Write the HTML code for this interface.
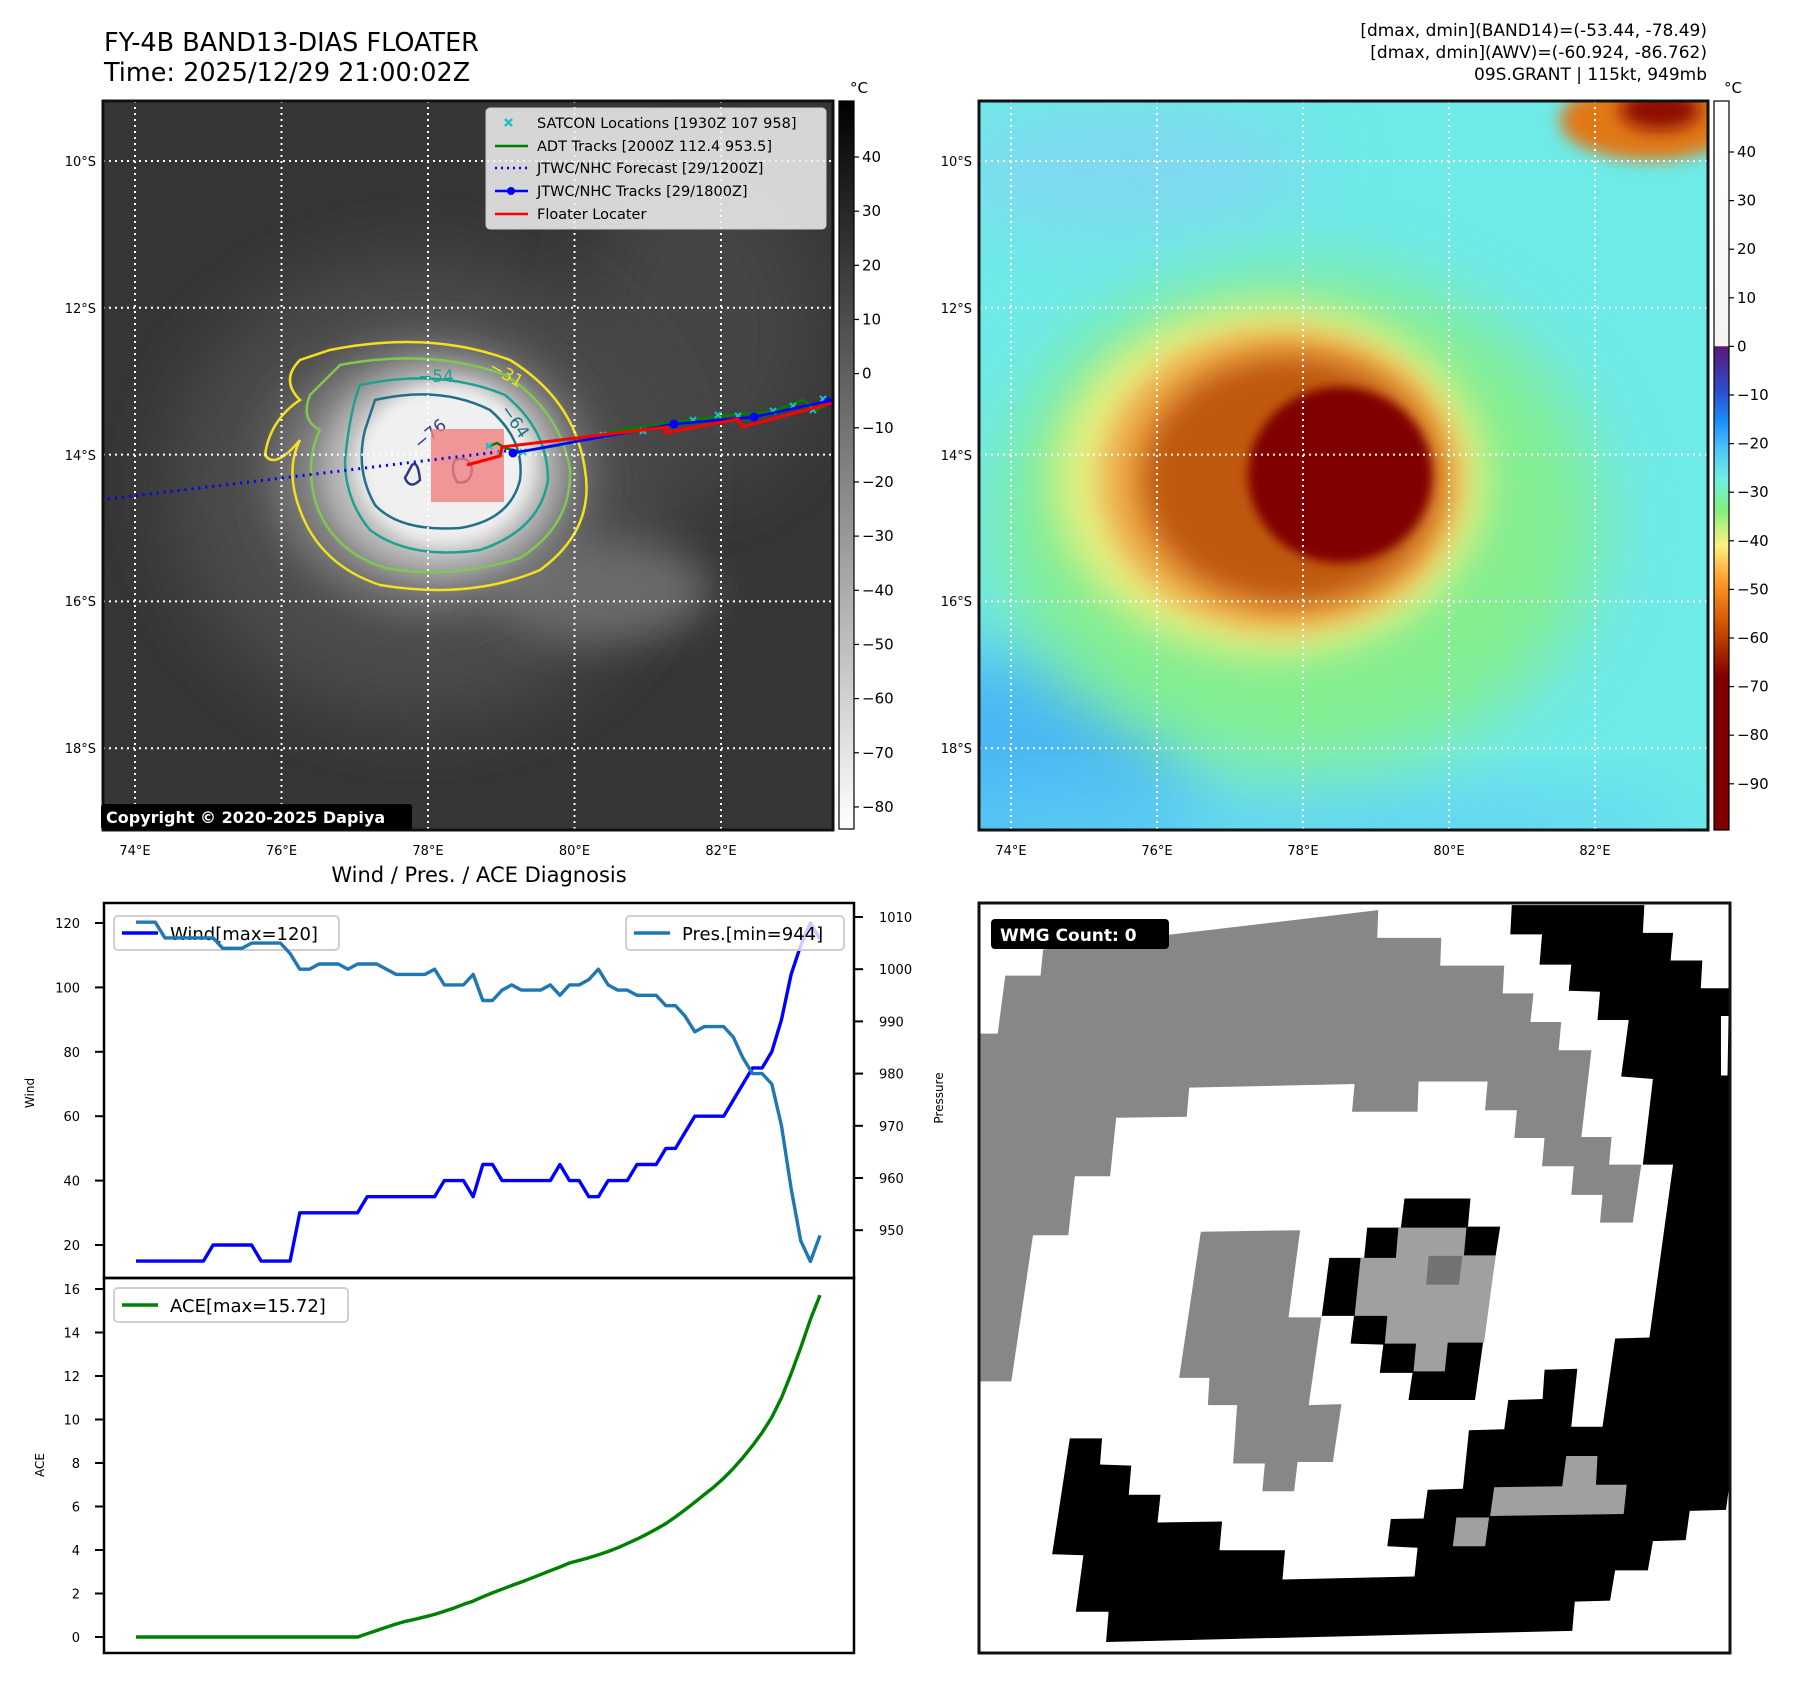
<!DOCTYPE html>
<html><head><meta charset="utf-8">
<style>
html,body{margin:0;padding:0;background:#fff;}
svg text{font-family:"DejaVu Sans","Liberation Sans",sans-serif;}
</style></head>
<body>
<svg id="fig" width="1797" height="1690" viewBox="0 0 1797 1690" xmlns="http://www.w3.org/2000/svg">
<defs>
  <filter id="b5" x="-50%" y="-50%" width="200%" height="200%"><feGaussianBlur stdDeviation="5"/></filter>
  <filter id="b8" x="-50%" y="-50%" width="200%" height="200%"><feGaussianBlur stdDeviation="8"/></filter>
  <filter id="b14" x="-50%" y="-50%" width="200%" height="200%"><feGaussianBlur stdDeviation="14"/></filter>
  <filter id="b20" x="-50%" y="-50%" width="200%" height="200%"><feGaussianBlur stdDeviation="20"/></filter>
  <filter id="b35" x="-50%" y="-50%" width="200%" height="200%"><feGaussianBlur stdDeviation="35"/></filter>
  <clipPath id="clipL"><rect x="103" y="101" width="730" height="729"/></clipPath>
  <clipPath id="clipR"><rect x="979" y="101" width="729" height="729"/></clipPath>
  <clipPath id="clipW"><rect x="979" y="903" width="751" height="750"/></clipPath>
  <linearGradient id="cbGrey" x1="0" y1="0" x2="0" y2="1">
    <stop offset="0" stop-color="#000"/><stop offset="1" stop-color="#fff"/>
  </linearGradient>
  <linearGradient id="cbJet" x1="0" y1="0" x2="0" y2="1">
    <stop offset="0" stop-color="#ffffff"/>
    <stop offset="0.336" stop-color="#f4f4f4"/>
    <stop offset="0.337" stop-color="#5a1878"/>
    <stop offset="0.40" stop-color="#2a50d0"/>
    <stop offset="0.44" stop-color="#1a90ff"/>
    <stop offset="0.48" stop-color="#50c8f8"/>
    <stop offset="0.52" stop-color="#70f0e0"/>
    <stop offset="0.56" stop-color="#80f080"/>
    <stop offset="0.61" stop-color="#fff080"/>
    <stop offset="0.66" stop-color="#ff9828"/>
    <stop offset="0.72" stop-color="#d05000"/>
    <stop offset="0.79" stop-color="#800000"/>
    <stop offset="1" stop-color="#800000"/>
  </linearGradient>
</defs>

<!-- titles -->
<text x="104" y="51" font-size="25.5">FY-4B BAND13-DIAS FLOATER</text>
<text x="104" y="81" font-size="25.5">Time: 2025/12/29 21:00:02Z</text>
<g font-size="17" text-anchor="end">
  <text x="1707" y="36">[dmax, dmin](BAND14)=(-53.44, -78.49)</text>
  <text x="1707" y="58">[dmax, dmin](AWV)=(-60.924, -86.762)</text>
  <text x="1707" y="80">09S.GRANT | 115kt, 949mb</text>
</g>

<!-- ========== top-left IR map ========== -->
<g clip-path="url(#clipL)">
  <rect x="103" y="101" width="730" height="729" fill="#363636"/>
  <ellipse cx="700" cy="330" rx="120" ry="160" fill="#444" filter="url(#b35)"/>
  <ellipse cx="420" cy="490" rx="250" ry="230" fill="#4c4c4c" filter="url(#b35)"/>
  <ellipse cx="600" cy="590" rx="110" ry="50" fill="#6a6a6a" filter="url(#b20)"/>
  <ellipse cx="430" cy="475" rx="160" ry="135" fill="#7a7a7a" filter="url(#b20)"/>
  <ellipse cx="440" cy="470" rx="120" ry="105" fill="#bcbcbc" filter="url(#b14)"/>
  <ellipse cx="445" cy="465" rx="90" ry="82" fill="#f0f0f0" filter="url(#b8)"/>
</g>
<g clip-path="url(#clipL)" fill="none" stroke-width="2.5">
  <path d="M330,350 Q430,330 510,360 Q575,400 585,470 Q595,530 540,570 Q470,600 380,585 Q320,565 300,510 Q285,470 300,440 Q275,470 265,455 Q270,420 300,400 Q280,380 300,360 Z" stroke="#f5e020"/>
  <path d="M340,365 Q430,348 505,375 Q560,410 570,470 Q572,525 520,558 Q450,580 385,568 Q330,550 315,500 Q305,460 320,430 Q300,420 310,395 Z" stroke="#80c850"/>
  <path d="M360,385 Q440,368 505,395 Q548,430 548,480 Q540,530 480,550 Q410,560 370,530 Q345,500 345,460 Q350,410 360,385 Z" stroke="#20a090"/>
  <path d="M375,400 Q440,385 490,410 Q525,440 520,480 Q510,520 460,528 Q400,532 375,505 Q355,470 365,430 Z" stroke="#207088"/>
  <path d="M455,460 Q470,455 472,470 Q470,485 457,482 Q450,470 455,460 Z M412,465 Q418,460 420,480 Q410,490 405,478 Z" stroke="#303880"/>
  <text x="418" y="382" font-size="17" fill="#20a090" stroke="none">−54</text>
  <text x="488" y="370" font-size="17" fill="#f5e020" stroke="none" transform="rotate(30 488 370)">−31</text>
  <text x="500" y="410" font-size="17" fill="#207088" stroke="none" transform="rotate(55 500 410)">−64</text>
  <text x="420" y="450" font-size="17" fill="#303880" stroke="none" transform="rotate(-40 420 450)">−76</text>
</g>
<g clip-path="url(#clipL)" stroke="#fff" stroke-width="2" stroke-dasharray="2,4">
  <line x1="135" y1="101" x2="135" y2="830"/><line x1="281.5" y1="101" x2="281.5" y2="830"/><line x1="428" y1="101" x2="428" y2="830"/><line x1="574.5" y1="101" x2="574.5" y2="830"/><line x1="721" y1="101" x2="721" y2="830"/>
  <line x1="103" y1="161" x2="833" y2="161"/><line x1="103" y1="307.8" x2="833" y2="307.8"/><line x1="103" y1="454.6" x2="833" y2="454.6"/><line x1="103" y1="601.4" x2="833" y2="601.4"/><line x1="103" y1="748.2" x2="833" y2="748.2"/>
</g>
<rect x="431" y="429" width="73" height="73" fill="#f08080" fill-opacity="0.8"/>
<g clip-path="url(#clipL)">
  <polyline points="108,499 514,450" fill="none" stroke="#0000ff" stroke-width="3" stroke-dasharray="2,5"/>
  <polyline points="487,447 497,443 505,448 520,452 560,445 620,430 690,420 740,414 770,412 803,400 817,410 832,402" fill="none" stroke="#008000" stroke-width="2.5"/>
  <g stroke="#20c0c0" stroke-width="2">
    <path d="M486,443l6,6m0,-6l-6,6 M497,451l6,6m0,-6l-6,6 M520,449l6,6m0,-6l-6,6 M560,440l6,6m0,-6l-6,6 M600,432l6,6m0,-6l-6,6 M640,428l6,6m0,-6l-6,6 M690,417l6,6m0,-6l-6,6 M715,412l6,6m0,-6l-6,6 M735,413l6,6m0,-6l-6,6 M770,408l6,6m0,-6l-6,6 M790,403l6,6m0,-6l-6,6 M810,407l6,6m0,-6l-6,6 M820,396l6,6m0,-6l-6,6"/>
  </g>
  <polyline points="513,453 674,424 754,417 833,400" fill="none" stroke="#0000ff" stroke-width="2.5"/>
  <g fill="#0000ff"><circle cx="513" cy="453" r="4.5"/><circle cx="674" cy="424" r="4.5"/><circle cx="754" cy="417" r="4.5"/><circle cx="828" cy="402" r="4.5"/></g>
  <polyline points="467,465 500,456 502,447 667,427 665,433 738,419 742,427 833,403" fill="none" stroke="#ff0000" stroke-width="3"/>
</g>
<rect x="103" y="101" width="730" height="729" fill="none" stroke="#111" stroke-width="3"/>
<!-- legend -->
<g>
  <rect x="486" y="108" width="340" height="121" rx="4" fill="#f2f2f2" fill-opacity="0.85" stroke="#ccc"/>
  <g font-size="14.5" fill="#000">
    <path d="M505,119l7,7m0,-7l-7,7" stroke="#20c0c0" stroke-width="2.5"/>
    <text x="537" y="128">SATCON Locations [1930Z 107 958]</text>
    <line x1="495" y1="146" x2="528" y2="146" stroke="#008000" stroke-width="2.5"/>
    <text x="537" y="151">ADT Tracks [2000Z 112.4 953.5]</text>
    <line x1="495" y1="168" x2="528" y2="168" stroke="#0000ff" stroke-width="2.5" stroke-dasharray="2,4"/>
    <text x="537" y="173">JTWC/NHC Forecast [29/1200Z]</text>
    <line x1="495" y1="191" x2="528" y2="191" stroke="#0000ff" stroke-width="2.5"/><circle cx="511" cy="191" r="4" fill="#0000ff"/>
    <text x="537" y="196">JTWC/NHC Tracks [29/1800Z]</text>
    <line x1="495" y1="214" x2="528" y2="214" stroke="#ff0000" stroke-width="2.5"/>
    <text x="537" y="219">Floater Locater</text>
  </g>
</g>
<g>
  <rect x="101" y="804" width="311" height="26" rx="3" fill="#000"/>
  <text x="106" y="823" font-size="16" font-weight="bold" fill="#fff">Copyright © 2020-2025 Dapiya</text>
</g>
<g font-size="13" text-anchor="end">
  <text x="96" y="166">10°S</text><text x="96" y="313">12°S</text><text x="96" y="460">14°S</text><text x="96" y="606">16°S</text><text x="96" y="753">18°S</text>
</g>
<g font-size="13" text-anchor="middle">
  <text x="135" y="855">74°E</text><text x="281.5" y="855">76°E</text><text x="428" y="855">78°E</text><text x="574.5" y="855">80°E</text><text x="721" y="855">82°E</text>
</g>
<rect x="839" y="101" width="15" height="728" fill="url(#cbGrey)" stroke="#000" stroke-width="1.2"/>
<text x="850" y="93" font-size="15">°C</text>
<g id="cbL" font-size="15"></g>

<!-- ========== top-right color map ========== -->
<g clip-path="url(#clipR)">
  <rect x="979" y="101" width="729" height="729" fill="#6eeae8"/>
  <ellipse cx="1000" cy="800" rx="200" ry="150" fill="#48b8f4" filter="url(#b35)"/>
  <ellipse cx="1130" cy="170" rx="180" ry="60" fill="#80d8f0" filter="url(#b35)"/>
  <ellipse cx="1300" cy="825" rx="400" ry="35" fill="#60d0f4" filter="url(#b35)"/>
  <ellipse cx="1300" cy="520" rx="300" ry="250" fill="#84ee90" filter="url(#b35)"/>
  <ellipse cx="1270" cy="480" rx="215" ry="175" fill="#e8f080" filter="url(#b20)"/>
  <ellipse cx="1280" cy="480" rx="180" ry="150" fill="#eeaa48" filter="url(#b14)"/>
  <ellipse cx="1290" cy="480" rx="150" ry="125" fill="#c05810" filter="url(#b14)"/>
  <ellipse cx="1340" cy="475" rx="92" ry="88" fill="#800000" filter="url(#b5)"/>
  <ellipse cx="1650" cy="120" rx="90" ry="40" fill="#e07818" filter="url(#b8)"/>
  <ellipse cx="1660" cy="110" rx="40" ry="20" fill="#900a00" filter="url(#b8)"/>
</g>
<g clip-path="url(#clipR)" stroke="#fff" stroke-width="2" stroke-dasharray="2,4">
  <line x1="1011" y1="101" x2="1011" y2="830"/><line x1="1157" y1="101" x2="1157" y2="830"/><line x1="1303" y1="101" x2="1303" y2="830"/><line x1="1449" y1="101" x2="1449" y2="830"/><line x1="1595" y1="101" x2="1595" y2="830"/>
  <line x1="979" y1="161" x2="1708" y2="161"/><line x1="979" y1="307.8" x2="1708" y2="307.8"/><line x1="979" y1="454.6" x2="1708" y2="454.6"/><line x1="979" y1="601.4" x2="1708" y2="601.4"/><line x1="979" y1="748.2" x2="1708" y2="748.2"/>
</g>
<rect x="979" y="101" width="729" height="729" fill="none" stroke="#111" stroke-width="3"/>
<g font-size="13" text-anchor="end">
  <text x="972" y="166">10°S</text><text x="972" y="313">12°S</text><text x="972" y="460">14°S</text><text x="972" y="606">16°S</text><text x="972" y="753">18°S</text>
</g>
<g font-size="13" text-anchor="middle">
  <text x="1011" y="855">74°E</text><text x="1157" y="855">76°E</text><text x="1303" y="855">78°E</text><text x="1449" y="855">80°E</text><text x="1595" y="855">82°E</text>
</g>
<rect x="1714" y="101" width="15" height="729" fill="url(#cbJet)" stroke="#000" stroke-width="1.2"/>
<text x="1724" y="93" font-size="15">°C</text>
<g id="cbR" font-size="15"></g>

<!-- ========== bottom-left diagnosis chart ========== -->
<text x="479" y="882" font-size="21" text-anchor="middle">Wind / Pres. / ACE Diagnosis</text>
<g id="chart"></g>

<!-- ========== bottom-right WMG ========== -->
<g clip-path="url(#clipW)">
  <rect x="979" y="903" width="751" height="750" fill="#fff"/>
  <g transform="translate(970,890) scale(0.504)">
    <polygon fill="#878787" points="20,285 55,285 70,170 140,170 145,118 810,40 808,95 935,95 933,150 1060,150 1057,205 1118,205 1112,262 1173,262 1168,318 1233,318 1213,490 1273,490 1268,545 1332,545 1315,660 1250,660 1255,605 1193,605 1198,548 1135,548 1140,492 1080,492 1085,437 1022,437 1027,380 890,380 888,440 758,440 763,385 435,392 430,450 290,452 278,568 208,568 195,685 125,685 82,975 20,975"/>
    <polygon fill="#000" points="1075,30 1338,30 1335,85 1395,85 1390,140 1453,140 1450,195 1508,195 1508,1170 1500,1230 1428,1232 1420,1290 1355,1292 1345,1350 1280,1350 1270,1410 1200,1412 1195,1470 270,1492 275,1432 210,1432 225,1320 163,1318 198,1088 262,1088 258,1140 320,1142 315,1200 378,1200 372,1255 500,1253 495,1310 625,1310 620,1368 882,1362 888,1305 828,1302 835,1248 900,1247 908,1190 978,1188 990,1072 1060,1070 1068,1012 1136,1010 1140,952 1205,950 1193,1065 1255,1065 1280,890 1348,888 1395,545 1335,545 1355,375 1292,370 1307,258 1245,258 1250,202 1188,200 1193,148 1130,148 1135,88 1072,88"/>
    <polygon fill="#fff" points="1490,250 1505,250 1503,368 1490,368"/>
    <polygon fill="#a0a0a0" points="1183,1123 1245,1123 1242,1180 1303,1180 1297,1238 1032,1242 1040,1185 1175,1183"/>
    <polygon fill="#a0a0a0" points="965,1245 1030,1245 1022,1302 958,1302"/>
    <polygon fill="#878787" points="458,678 655,675 632,848 697,848 672,1022 737,1020 720,1135 650,1135 643,1193 580,1193 585,1138 522,1138 530,1022 472,1022 475,968 415,968"/>
    <polygon fill="#000" points="862,612 993,612 988,668 1052,668 1043,725 1018,898 1002,1012 870,1012 878,958 813,958 820,902 755,900 762,845 698,845 713,730 782,730 788,670 855,670"/>
    <polygon fill="#a0a0a0" points="850,670 985,670 980,725 1043,725 1020,898 948,898 942,955 880,955 885,900 823,900 828,845 763,845 775,730 845,730"/>
    <polygon fill="#737373" points="910,726 977,726 970,783 905,783"/>
  </g>
</g>
<rect x="979" y="903" width="751" height="750" fill="none" stroke="#111" stroke-width="3"/>
<g>
  <rect x="991" y="919" width="178" height="30" rx="4" fill="#000"/>
  <text x="1000" y="941" font-size="17" font-weight="bold" fill="#fff">WMG Count: 0</text>
</g>

<script>
// ---- data ----
const windValues = [15,15,15,15,15,15,15,15,20,20,20,20,20,15,15,15,15,30,30,30,30,30,30,30,35,35,35,35,35,35,35,35,40,40,40,35,45,45,40,40,40,40,40,40,45,40,40,35,35,40,40,40,45,45,45,50,50,55,60,60,60,60,65,70,75,75,80,90,104,113,120,115];
const presValues = [1009,1009,1009,1006,1006,1006,1006,1006,1006,1004,1004,1004,1005,1005,1005,1005,1003,1000,1000,1001,1001,1001,1000,1001,1001,1001,1000,999,999,999,999,1000,997,997,997,999,994,994,996,997,996,996,996,997,995,997,997,998,1000,997,996,996,995,995,995,993,993,991,988,989,989,989,987,983,980,980,978,970,958,948,944,949];
const aceValues = [0,0,0,0,0,0,0,0,0,0,0,0,0,0,0,0,0,0,0,0,0,0,0,0,0.15,0.3,0.45,0.6,0.72,0.82,0.93,1.04,1.18,1.33,1.5,1.65,1.85,2.03,2.2,2.37,2.53,2.7,2.87,3.05,3.22,3.4,3.52,3.64,3.78,3.93,4.1,4.3,4.5,4.72,4.96,5.22,5.52,5.85,6.2,6.55,6.9,7.3,7.75,8.25,8.8,9.4,10.1,11.0,12.1,13.3,14.6,15.72];
const windTicks = [20,40,60,80,100,120];
const presTicks = [950,960,970,980,990,1000,1010];
const aceTicks = [0,2,4,6,8,10,12,14,16];
const irCbTicks = [40,30,20,10,0,-10,-20,-30,-40,-50,-60,-70,-80];
const wvCbTicks = [40,30,20,10,0,-10,-20,-30,-40,-50,-60,-70,-80,-90];

const NS = 'http://www.w3.org/2000/svg';
function mk(tag, attrs, parent){ const e=document.createElementNS(NS,tag); for(const k in attrs) e.setAttribute(k,attrs[k]); parent.appendChild(e); return e; }

// axis functions
const N = windValues.length;
const xIdx = i => 136 + i*(820-136)/(N-1);
const yWind = v => 923 + (120-v)*3.22;
const yPres = p => 917 + (1010-p)*5.22;
const yAce = a => 1637 - a*21.75;
const yIrCb = v => 157 + (40-v)*5.416;
const yWvCb = v => 152 + (40-v)*4.86;

// colorbar ticks
const cbL = document.getElementById('cbL');
irCbTicks.forEach(v=>{
  const y=yIrCb(v);
  const t=mk('line',{x1:854,x2:859,y1:y,y2:y,stroke:'#000','stroke-width':1.2},cbL);
  
  
  const l=mk('text',{x:862,y:y+5},cbL);
  
  
  l.textContent = v<0 ? '−'+(-v) : String(v);
});
const cbR = document.getElementById('cbR');
wvCbTicks.forEach(v=>{
  const y=yWvCb(v);
  const t=mk('line',{x1:1729,x2:1734,y1:y,y2:y,stroke:'#000','stroke-width':1.2},cbR);
  
  
  const l=mk('text',{x:1737,y:y+5},cbR);
  
  
  l.textContent = v<0 ? '−'+(-v) : String(v);
});

// chart
const ch = document.getElementById('chart');
mk('rect',{x:104,y:903,width:750,height:750,fill:'#fff'},ch);

function polyline(vals, yf, color, name){
  const pts = vals.map((v,i)=>xIdx(i).toFixed(1)+','+yf(v).toFixed(1)).join(' ');
  const p = mk('polyline',{points:pts,fill:'none',stroke:color,'stroke-width':3.4,'stroke-linejoin':'round'},ch);
  
  
  return p;
}
function legend(x,y,w,color,label,name){
  const g = mk('g',{},ch);
  
  
  mk('rect',{x:x,y:y,width:w,height:34,rx:4,fill:'#fff','fill-opacity':0.8,stroke:'#d0d0d0','stroke-width':2},g);
  mk('line',{x1:x+8,x2:x+44,y1:y+17,y2:y+17,stroke:color,'stroke-width':3.4},g);
  const t = mk('text',{x:x+56,y:y+24,'font-size':18},g);
  t.textContent = label;
}

polyline(windValues, yWind, '#0000ff', 'wind-line');
legend(114,916,225,'#0000ff','Wind[max=120]','wind-legend');
polyline(presValues, yPres, '#1f77b4', 'pressure-line');
legend(626,916,218,'#1f77b4','Pres.[min=944]','pressure-legend');
polyline(aceValues, yAce, '#008000', 'ace-line');
legend(114,1288,234,'#008000','ACE[max=15.72]','ace-legend');

// frames
const f1 = mk('rect',{x:104,y:903,width:750,height:375,fill:'none',stroke:'#000','stroke-width':2.5},ch);


const f2 = mk('rect',{x:104,y:1278,width:750,height:375,fill:'none',stroke:'#000','stroke-width':2.5},ch);



function ticks(vals, yf, side, name){
  vals.forEach(v=>{
    const y=yf(v);
    const x1 = side==='left'?95:854, x2 = side==='left'?104:863;
    const t = mk('line',{x1:x1,x2:x2,y1:y,y2:y,stroke:'#000','stroke-width':2},ch);
    
    
    const l = mk('text',{x: side==='left'?80:879, y:y+5,'font-size':13,'text-anchor': side==='left'?'end':'start'},ch);
    
    
    l.textContent = String(v);
  });
}
ticks(windTicks, yWind, 'left', 'wind-axis');
ticks(presTicks, yPres, 'right', 'pressure-axis');
ticks(aceTicks, yAce, 'left', 'ace-axis');

const yl1 = mk('text',{x:34,y:1093,'font-size':12,'text-anchor':'middle',transform:'rotate(-90 34 1093)'},ch);


yl1.textContent='Wind';
const yl2 = mk('text',{x:44,y:1465,'font-size':12,'text-anchor':'middle',transform:'rotate(-90 44 1465)'},ch);


yl2.textContent='ACE';
const yl3 = mk('text',{x:943,y:1098,'font-size':12,'text-anchor':'middle',transform:'rotate(-90 943 1098)'},ch);


yl3.textContent='Pressure';
</script>
</svg>
</body></html>
